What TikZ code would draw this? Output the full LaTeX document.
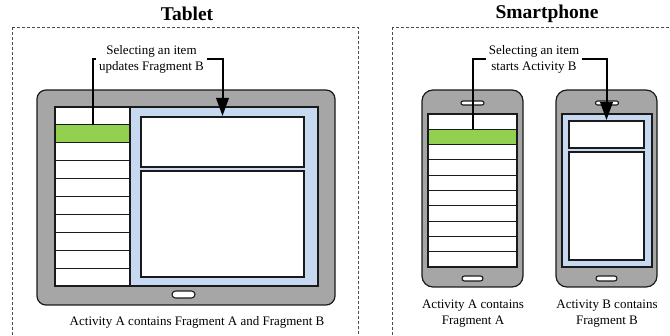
\documentclass[tikz,border=0pt]{standalone}
\usepackage{fontspec}
\setmainfont{Liberation Serif}
\usetikzlibrary{arrows.meta}
\definecolor{bodygray}{HTML}{A6A6A6}
\definecolor{scrblue}{HTML}{C6D9F1}
\definecolor{selgreen}{HTML}{92D050}
\definecolor{edgec}{HTML}{1A1A1A}
\begin{document}
\begin{tikzpicture}[x=1pt,y=-1pt,
  every node/.style={font=\fontsize{13pt}{16pt}\selectfont},
  panel/.style={draw=black!70, dash pattern=on 3pt off 2pt, line width=0.8pt},
  device/.style={draw=edgec, fill=bodygray, line width=1.2pt, rounded corners=9pt, inner sep=0pt, outer sep=0pt, anchor=north west},
  screen/.style={draw=edgec, fill=scrblue, line width=1.2pt, inner sep=0pt, outer sep=0pt, anchor=north west},
  wbox/.style={draw=edgec, fill=white, line width=1.1pt, inner sep=0pt, outer sep=0pt, anchor=north west},
  selbox/.style={wbox, fill=selgreen},
  slot/.style={draw=edgec, fill=white, line width=1.1pt, rounded corners=2.5pt, inner sep=0pt, outer sep=0pt},
  title/.style={font=\fontsize{19.5pt}{22pt}\selectfont\bfseries},
  caption/.style={align=center, inner sep=0pt},
  lbl/.style={align=center, fill=white, inner xsep=3pt, inner ysep=1pt},
  conn/.style={line width=2pt, draw=black, -{Triangle[width=12.5pt,length=18pt]}, shorten >=1pt}
]
\useasboundingbox (0,0) rectangle (670,336);
\clip (0,0) rectangle (670,336);

% panels
\draw[panel] (12,27) rectangle (358,345);
\draw[panel] (392,27) rectangle (690,345);

% titles
\node[title] (ttab) at (187,14) {Tablet};
\node[title] (tphone) at (547,14) {Smartphone};

% ---------- Tablet ----------
\node[device, minimum width=298pt, minimum height=215pt] (tab) at (37,90) {};
\node[screen, minimum width=263pt, minimum height=179pt] (tabscr) at (55,107) {};
\foreach \i in {1,...,10}{
  \ifnum\i=2
    \node[selbox, minimum width=75pt, minimum height=17.9pt] (trow\i) at (55,{107+(\i-1)*17.9}) {};
  \else
    \node[wbox, minimum width=75pt, minimum height=17.9pt] (trow\i) at (55,{107+(\i-1)*17.9}) {};
  \fi
}
\node[wbox, minimum width=163pt, minimum height=50pt] (ttop) at (141,117) {};
\node[wbox, minimum width=163pt, minimum height=106pt] (tbot) at (141,171) {};
\node[slot, minimum width=23pt, minimum height=7pt, rounded corners=3.5pt] (thome) at (183.5,294.5) {};
\node[caption] (tcap) at (197,322) {Activity A contains Fragment A and Fragment B};

% ---------- Phone A ----------
\node[device, minimum width=101pt, minimum height=197pt, rounded corners=11pt] (pa) at (422,90) {};
\node[slot, minimum width=23pt, minimum height=4pt, rounded corners=2pt] (pasp) at (472.5,103) {};
\node[screen, fill=white, minimum width=89pt, minimum height=153pt] (pascr) at (428,114) {};
\foreach \i in {1,...,10}{
  \ifnum\i=2
    \node[selbox, minimum width=89pt, minimum height=15.3pt] (prow\i) at (428,{114+(\i-1)*15.3}) {};
  \else
    \node[wbox, minimum width=89pt, minimum height=15.3pt] (prow\i) at (428,{114+(\i-1)*15.3}) {};
  \fi
}
\node[slot, minimum width=21pt, minimum height=5pt, rounded corners=2.5pt] (pahome) at (472.5,278.5) {};
\node[caption] (pacap) at (473,314) {Activity A contains\\Fragment A};

% ---------- Phone B ----------
\node[device, minimum width=101pt, minimum height=197pt, rounded corners=11pt] (pb) at (556,90) {};
\node[slot, minimum width=23pt, minimum height=4pt, rounded corners=2pt] (pbsp) at (607,103) {};
\node[screen, minimum width=90pt, minimum height=153pt] (pbscr) at (562,114) {};
\node[wbox, minimum width=75pt, minimum height=27pt] (pbtop) at (569,121) {};
\node[wbox, minimum width=75pt, minimum height=108pt] (pbbot) at (569,152) {};
\node[slot, minimum width=21pt, minimum height=5pt, rounded corners=2.5pt] (pbhome) at (606.5,278.5) {};
\node[caption] (pbcap) at (607,314) {Activity B contains\\Fragment B};

% ---------- connectors ----------
\coordinate (tmid) at (151.5,59.5);
\coordinate (pmid) at (534,59.5);
\draw[conn] (trow2.north) |- (tmid) -| (ttop.north);
\draw[conn] (prow2.north) |- (pmid) -| (pbtop.north);
\node[lbl] (tlbl) at (tmid) {Selecting an item\\updates Fragment B};
\node[lbl] (plbl) at (pmid) {Selecting an item\\starts Activity B};
\end{tikzpicture}
\end{document}
